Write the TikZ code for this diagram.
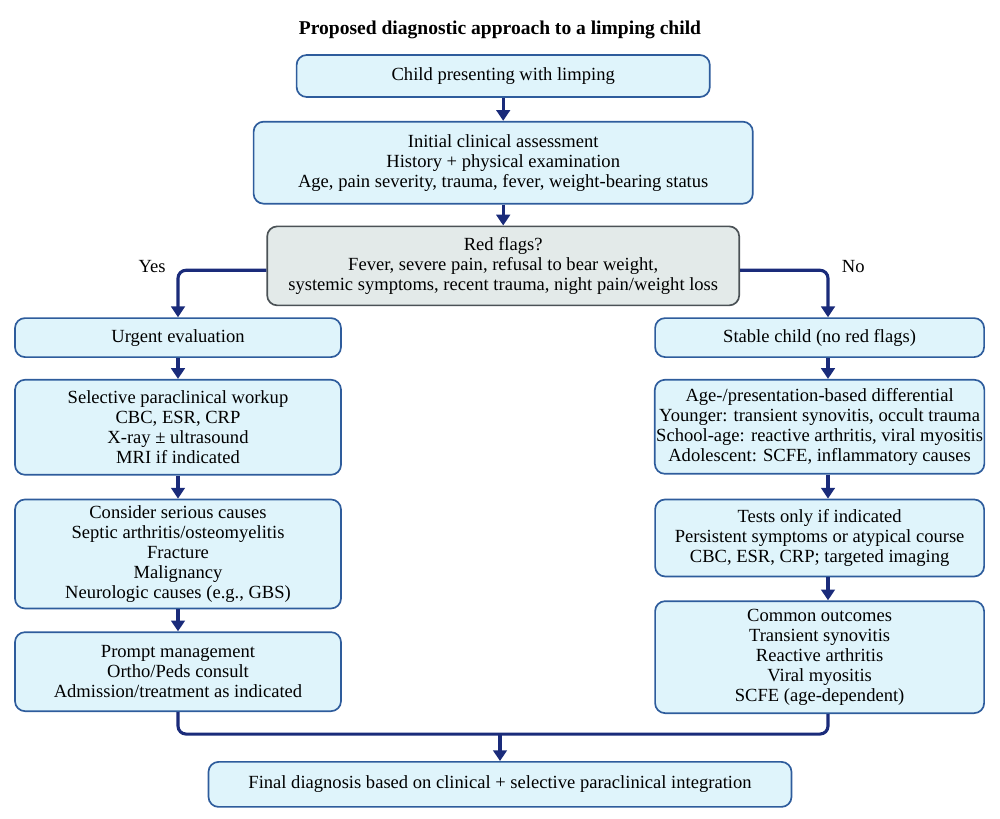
\documentclass[tikz,border=0pt]{standalone}
\usepackage{fontspec}
\setmainfont{Liberation Serif}
\usepackage{xcolor}
\usepackage{tikz}
\usetikzlibrary{arrows.meta,positioning}

\definecolor{boxfill}{HTML}{DFF4FB}
\definecolor{boxline}{HTML}{2E5C9C}
\definecolor{flowline}{HTML}{1A2B7A}
\definecolor{flagfill}{HTML}{E3EAE9}
\definecolor{flagline}{HTML}{4B5256}

\begin{document}
\begin{tikzpicture}[
box/.style={draw=boxline, line width=1.2pt, rounded corners=0.25cm, fill=boxfill, align=center, inner sep=1pt, font=\fontsize{13.2}{14.2}\selectfont},
flag/.style={box, draw=flagline, fill=flagfill},
arrow/.style={-{Triangle[length=0.27cm,width=0.34cm]}, line width=2.2pt, draw=flowline, rounded corners=0.2cm},
link/.style={line width=2.2pt, draw=flowline, rounded corners=0.2cm},
lbl/.style={font=\fontsize{13.2}{14.2}\selectfont}
]
\useasboundingbox (0,0) rectangle (25,-20.475);
\node[font=\bfseries\fontsize{13.9}{15}\selectfont] (title) at (12.5,-0.74) {Proposed diagnostic approach to a limping child};
\node[box, minimum width=10.33cm, minimum height=1.05cm] (start) at (12.58,-1.9) {Child presenting with limping};
\node[box, minimum width=12.48cm, minimum height=2.05cm, below=0.575cm of start] (assess) {Initial clinical assessment\\History + physical examination\\Age, pain severity, trauma, fever, weight-bearing status};
\node[flag, minimum width=11.8cm, minimum height=1.975cm, below=0.525cm of assess] (flags) {Red flags?\\Fever, severe pain, refusal to bear weight,\\systemic symptoms, recent trauma, night pain/weight loss};
% left column
\node[box, minimum width=8.15cm, minimum height=0.975cm] (urgent) at (4.45,-8.44) {Urgent evaluation};
\node[box, minimum width=8.15cm, minimum height=2.375cm, below=0.525cm of urgent] (workup) {Selective paraclinical workup\\CBC, ESR, CRP\\X-ray ± ultrasound\\MRI if indicated};
\node[box, minimum width=8.15cm, minimum height=2.725cm, below=0.575cm of workup] (serious) {Consider serious causes\\Septic arthritis/osteomyelitis\\Fracture\\Malignancy\\Neurologic causes (e.g., GBS)};
\node[box, minimum width=8.15cm, minimum height=1.975cm, below=0.55cm of serious] (manage) {Prompt management\\Ortho/Peds consult\\Admission/treatment as indicated};
% right column
\node[box, minimum width=8.225cm, minimum height=0.975cm] (stable) at (20.49,-8.44) {Stable child (no red flags)};
\node[box, minimum width=8.225cm, minimum height=2.35cm, below=0.525cm of stable] (diff) {Age-/presentation-based differential\\Younger: transient synovitis, occult trauma\\School-age: reactive arthritis, viral myositis\\Adolescent: SCFE, inflammatory causes};
\node[box, minimum width=8.225cm, minimum height=1.925cm, below=0.6cm of diff] (tests) {Tests only if indicated\\Persistent symptoms or atypical course\\CBC, ESR, CRP; targeted imaging};
\node[box, minimum width=8.225cm, minimum height=2.8cm, below=0.575cm of tests] (outcomes) {Common outcomes\\Transient synovitis\\Reactive arthritis\\Viral myositis\\SCFE (age-dependent)};
\node[box, minimum width=14.575cm, minimum height=1.125cm] (final) at (12.5,-19.61) {Final diagnosis based on clinical + selective paraclinical integration};
\node[lbl] (yes) at (3.8,-6.675) {Yes};
\node[lbl] (no) at (21.33,-6.675) {No};
\coordinate (merge) at ([yshift=0.675cm]final.north);
% connectors
\draw[arrow] (start) -- (assess);
\draw[arrow] (assess) -- (flags);
\draw[arrow] ([yshift=-0.11cm]flags.west) -| (urgent.north);
\draw[arrow] ([yshift=-0.11cm]flags.east) -| ([xshift=0.21cm]stable.north);
\draw[arrow] (urgent) -- (workup);
\draw[arrow] (workup) -- (serious);
\draw[arrow] (serious) -- (manage);
\draw[arrow] ([xshift=0.21cm]stable.south) -- ([xshift=0.21cm]diff.north);
\draw[arrow] ([xshift=0.21cm]diff.south) -- ([xshift=0.21cm]tests.north);
\draw[arrow] ([xshift=0.21cm]tests.south) -- ([xshift=0.21cm]outcomes.north);
\draw[link] (manage.south) |- (merge) -| ([xshift=0.21cm]outcomes.south);
\draw[arrow] (merge) -- (final.north);
\end{tikzpicture}
\end{document}
